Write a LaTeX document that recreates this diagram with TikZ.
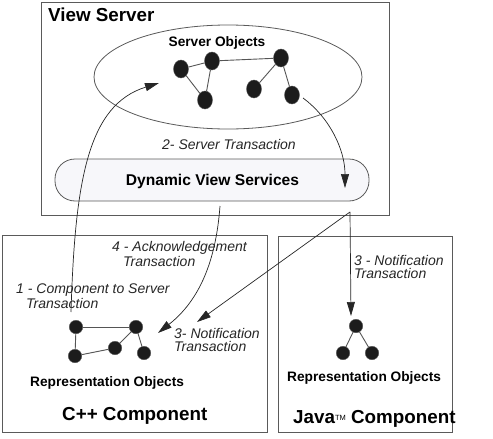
\documentclass[tikz,border=0pt]{standalone}
\usepackage{fontspec}
\setmainfont{Liberation Sans}
\usetikzlibrary{arrows.meta,shapes.geometric}
\definecolor{boxline}{HTML}{5A5A5A}
\definecolor{dvsfill}{HTML}{F7F7FA}
\definecolor{dotc}{HTML}{1C1C1C}
\definecolor{edgec}{HTML}{555555}
\tikzset{
  frame/.style={draw=boxline, line width=0.8pt},
  sdot/.style={ellipse, fill=dotc, draw=edgec, line width=0.4pt, minimum width=15pt, minimum height=18pt, inner sep=0pt},
  cdot/.style={circle, fill=dotc, draw=edgec, line width=0.4pt, minimum size=13.5pt, inner sep=0pt},
  link/.style={draw=edgec, line width=0.9pt},
  flow/.style={draw=black!85, line width=0.7pt, -{Triangle[length=14pt,width=8pt]}},
  title/.style={font=\bfseries\fontsize{18.8}{20}\selectfont, inner sep=0pt, anchor=base west},
  btext/.style={font=\bfseries\fontsize{13.7}{15}\selectfont, inner sep=0pt},
  itext/.style={font=\itshape\fontsize{14}{13}\selectfont, inner sep=0pt, align=left, anchor=base west, text=black!85},
}
\begin{document}
\begin{tikzpicture}[x=1pt,y=-1pt]
\useasboundingbox (0,0) rectangle (493,439);
% boxes
\draw[frame] (41,2) rectangle (389,215);
\draw[frame] (2,235) rectangle (267,432);
\draw[frame] (278,236) rectangle (452,432);
\node[title] (vs) at (48,21) {View Server};
\node[title] (cpp) at (62,420) {C++ Component};
\node[title] (java) at (293,423) {Java\raisebox{2.5pt}{\mdseries\fontsize{7.5}{8}\selectfont TM} Component};
% server objects ellipse
\node[ellipse, draw=boxline, line width=0.8pt, minimum width=268pt, minimum height=104pt, inner sep=0pt] (ell) at (228,77) {};
\node[btext, anchor=base] (so) at (217,46.5) {Server Objects};
\node[sdot] (s1) at (181,69) {};
\node[sdot] (s2) at (212,61) {};
\node[sdot] (s3) at (205,100) {};
\node[sdot] (s4) at (281,58) {};
\node[sdot] (s5) at (254,89) {};
\node[sdot] (s6) at (292,95) {};
% dynamic view services
\node[draw=boxline, line width=0.8pt, fill=dvsfill, rounded corners=20pt, minimum width=314pt, minimum height=42pt, inner sep=0pt] (dvs) at (212,180) {};
\node[btext, font=\bfseries\fontsize{15.6}{17}\selectfont, anchor=base] (dvst) at (212.5,185) {Dynamic View Services};
\node[itext] (l2) at (162,149) {2- Server Transaction};
% edges server
\draw[link] (s1) -- (s2);
\draw[link] (s1) -- (s3);
\draw[link] (s2) -- (s3);
\draw[link] (s2) -- (s4);
\draw[link] (s4) -- (s5);
\draw[link] (s4) -- (s6);
% C++ objects
\node[cdot] (c1) at (76,327) {};
\node[cdot] (c2) at (136,327) {};
\node[cdot] (c3) at (75,356) {};
\node[cdot] (c4) at (115,348) {};
\node[cdot] (c5) at (144,353) {};
\draw[link] (c1) -- (c2);
\draw[link] (c1) -- (c3);
\draw[link] (c3) -- (c4);
\draw[link] (c4) -- (c2);
\draw[link] (c2) -- (c5);
\node[btext, anchor=base west] (rep1) at (30,386) {Representation Objects};
% Java objects
\node[cdot] (j1) at (356,326) {};
\node[cdot] (j2) at (343,353) {};
\node[cdot] (j3) at (372,353) {};
\draw[link] (j1) -- (j2);
\draw[link] (j1) -- (j3);
\node[btext, anchor=base west] (rep2) at (287,381) {Representation Objects};
% labels (anchor = baseline of last line)
\node[itext] (l4) at (112,266) {4 - Acknowledgement\\\hspace*{11pt}Transaction};
\node[itext] (l1) at (16,308) {1 - Component to Server\\\hspace*{10pt}Transaction};
\node[itext] (l3a) at (174,351) {3- Notification\\Transaction};
\node[itext] (l3b) at (354,278) {3 - Notification\\Transaction};
% coordinates for connectors
\coordinate (a1s) at (71,312);
\coordinate (a1e) at (159,83);
\coordinate (a2s) at (303,98);
\coordinate (a2e) at (345,188);
\coordinate (a4s) at (220,206);
\coordinate (a4e) at (158,333);
\coordinate (fork) at (350,212);
\coordinate (a3e) at (197,322);
\coordinate (a3j) at (351,316);
% connectors
\draw[flow] (a1s) .. controls (75,180) and (88,105) .. (a1e);
\draw[flow] (a2s) .. controls (330,118) and (345,150) .. (a2e);
\draw[flow] (a4s) .. controls (216,260) and (200,300) .. (a4e);
\draw[flow] (fork) -- (a3e);
\draw[flow] (fork) -- (a3j);
\end{tikzpicture}
\end{document}
